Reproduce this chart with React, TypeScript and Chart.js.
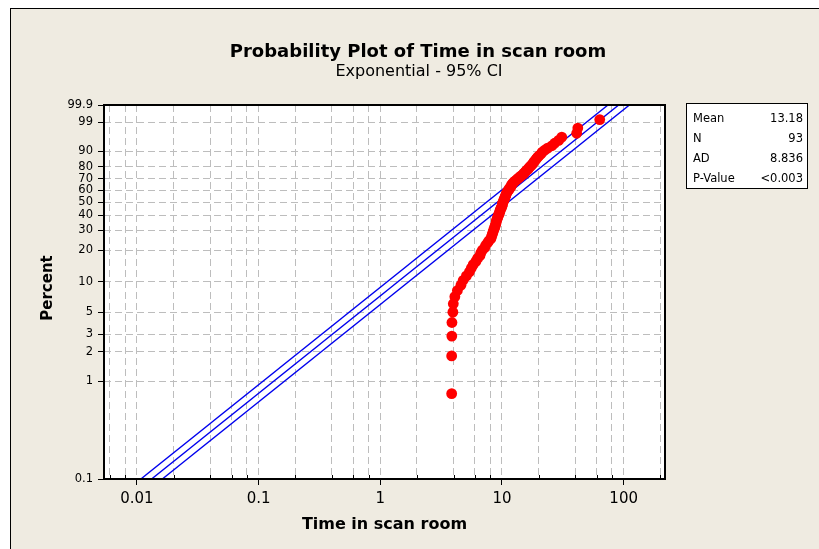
import React, { useEffect, useRef } from "react";
import { Chart, registerables } from "chart.js";

Chart.register(...registerables);

const chartTitle = "Probability Plot of Time in scan room";
const chartSubtitle = "Exponential - 95% CI";
const xAxisTitle = "Time in scan room";
const yAxisTitle = "Percent";

const timeValues = [
  3.86, 3.86, 3.87, 3.88, 3.95, 3.98, 4.1, 4.3, 4.6, 4.8,
  5.1, 5.4, 5.6, 5.8, 6.1, 6.3, 6.6, 6.7, 6.9, 7.2,
  7.35, 7.6, 7.8, 8.1, 8.2, 8.3, 8.4, 8.5, 8.6, 8.7,
  8.8, 8.9, 8.95, 9.0, 9.1, 9.2, 9.3, 9.4, 9.5, 9.6,
  9.65, 9.75, 9.9, 10.0, 10.05, 10.1, 10.2, 10.3, 10.4, 10.5,
  10.6, 10.7, 10.8, 10.9, 11.0, 11.2, 11.4, 11.5, 11.8, 11.9,
  12.0, 12.2, 12.5, 12.8, 13.2, 13.5, 14.0, 14.3, 14.8, 15.1,
  15.5, 15.8, 16.3, 16.6, 17.0, 17.5, 17.9, 18.2, 18.6, 19.1,
  19.5, 20.1, 20.9, 21.4, 22.4, 23.7, 25.7, 27.1, 29.2, 31.0,
  41.1, 42.0, 63.6,
];

// Fitted exponential mean and 95% CI bounds for the mean
const fitMean = 13.18;
const ciLowerMean = 10.76;
const ciUpperMean = 16.15;

const percentTicks = [0.1, 1, 2, 3, 5, 10, 20, 30, 40, 50, 60, 70, 80, 90, 99, 99.9];
const percentTickLabels = ["0.1", "1", "2", "3", "5", "10", "20", "30", "40", "50", "60", "70", "80", "90", "99", "99.9"];

const timeGridValues = [0.006, 0.008, 0.01, 0.02, 0.04, 0.06, 0.08, 0.1, 0.2, 0.4, 0.6, 0.8, 1, 2, 4, 6, 8, 10, 20, 40, 60, 80, 100, 200];
const timeTickLabels = ["", "", "0.01", "", "", "", "", "0.1", "", "", "", "", "1", "", "", "", "", "10", "", "", "", "", "100", ""];

const xMin = 0.00536;
const xMax = 218.7;

const statLabels = ["Mean", "N", "AD", "P-Value"];
const statValues = ["13.18", "93", "8.836", "<0.003"];

const FONT = '"DejaVu Sans", "Noto Sans", sans-serif';

// exponential probability transform
const tf = (pct: number) => Math.log10(-Math.log(1 - pct / 100));

const n = timeValues.length;
const points = timeValues.map((t, i) => ({ x: t, y: tf((100 * (i + 1 - 0.3)) / (n + 0.4)) }));
const lineFor = (theta: number) => [
  { x: theta * -Math.log(1 - 0.001), y: tf(0.1) },
  { x: theta * -Math.log(1 - 0.999), y: tf(99.9) },
];

const decorPlugin = {
  id: "decor",
  beforeDraw(chart: any) {
    const { ctx, chartArea: a } = chart;
    ctx.save();
    ctx.fillStyle = "#ffffff";
    ctx.fillRect(a.left, a.top, a.right - a.left, a.bottom - a.top);
    ctx.restore();
  },
  afterDraw(chart: any) {
    const { ctx, chartArea: a, scales } = chart;
    ctx.save();
    // minor inner ticks on the x axis
    ctx.strokeStyle = "#000";
    ctx.lineWidth = 1;
    ctx.beginPath();
    timeGridValues.forEach((v, i) => {
      if (timeTickLabels[i]) return;
      const px = Math.round(scales.x.getPixelForValue(v)) + 0.5;
      ctx.moveTo(px, a.bottom);
      ctx.lineTo(px, a.bottom - 4);
    });
    ctx.stroke();
    // frame
    ctx.lineWidth = 2;
    ctx.strokeRect(a.left, a.top, a.right - a.left, a.bottom - a.top);

    // titles
    ctx.fillStyle = "#000";
    ctx.textAlign = "center";
    ctx.textBaseline = "alphabetic";
    ctx.font = `bold 18px ${FONT}`;
    ctx.fillText(chartTitle, 418, 57);
    ctx.font = `16px ${FONT}`;
    ctx.fillText(chartSubtitle, 419, 76);
    ctx.font = `bold 16px ${FONT}`;
    ctx.fillText(xAxisTitle, (a.left + a.right) / 2, 529);
    ctx.save();
    ctx.translate(52, 288);
    ctx.rotate(-Math.PI / 2);
    ctx.font = `bold 15px ${FONT}`;
    ctx.fillText(yAxisTitle, 0, 0);
    ctx.restore();

    // stats box
    ctx.fillStyle = "#ffffff";
    ctx.fillRect(686, 104, 121, 85);
    ctx.strokeStyle = "#000";
    ctx.lineWidth = 1;
    ctx.strokeRect(686.5, 103.5, 121, 85);
    ctx.fillStyle = "#000";
    ctx.font = `11.5px ${FONT}`;
    statLabels.forEach((lab, i) => {
      const y = 122 + i * 20;
      ctx.textAlign = "left";
      ctx.fillText(lab, 693, y);
      ctx.textAlign = "right";
      ctx.fillText(statValues[i], 803, y);
    });
    ctx.restore();
  },
};

export default function App() {
  const ref = useRef<HTMLCanvasElement>(null);
  useEffect(() => {
    if (!ref.current) return;
    const chart = new Chart(ref.current, {
      type: "scatter",
      data: {
        datasets: [
          {
            data: points,
            pointRadius: 5.4,
            pointBackgroundColor: "#ff0000",
            pointBorderColor: "#ff0000",
            pointBorderWidth: 0,
            showLine: false,
          },
          {
            data: lineFor(fitMean),
            showLine: true,
            borderColor: "#0000ee",
            borderWidth: 1.4,
            pointRadius: 0,
          },
          {
            data: lineFor(ciLowerMean),
            showLine: true,
            borderColor: "#0000ee",
            borderWidth: 1.4,
            pointRadius: 0,
          },
          {
            data: lineFor(ciUpperMean),
            showLine: true,
            borderColor: "#0000ee",
            borderWidth: 1.4,
            pointRadius: 0,
          },
        ],
      },
      options: {
        responsive: false,
        devicePixelRatio: 1,
        animation: false,
        events: [],
        layout: { padding: { left: 0, right: 154, top: 105, bottom: 0 } },
        plugins: { legend: { display: false }, tooltip: { enabled: false }, title: { display: false } },
        scales: {
          x: {
            type: "logarithmic",
            min: xMin,
            max: xMax,
            afterBuildTicks: (scale: any) => {
              scale.ticks = timeGridValues.map((v) => ({ value: v }));
            },
            afterFit: (scale: any) => {
              scale.height = 70;
            },
            border: { display: false, dash: [7, 4] },
            grid: {
              color: "#bdbdbd",
              lineWidth: 1,
              tickLength: 6,
              tickWidth: 1,
              tickBorderDash: [],
              tickColor: (ctx: any) => (timeTickLabels[ctx.index] ? "#000" : "rgba(0,0,0,0)"),
            },
            ticks: {
              autoSkip: false,
              maxRotation: 0,
              minRotation: 0,
              padding: 5,
              color: "#000",
              font: { family: FONT, size: 15 },
              callback: (_v: any, i: number) => timeTickLabels[i],
            },
          },
          y: {
            type: "linear",
            min: tf(0.1),
            max: tf(99.9),
            afterBuildTicks: (scale: any) => {
              scale.ticks = percentTicks.map((p) => ({ value: tf(p) }));
            },
            afterFit: (scale: any) => {
              scale.width = 104;
            },
            border: { display: false, dash: [7, 4] },
            grid: {
              color: "#bdbdbd",
              lineWidth: 1,
              tickLength: 6,
              tickWidth: 1,
              tickBorderDash: [],
              tickColor: "#000",
            },
            ticks: {
              padding: 5,
              color: "#000",
              font: { family: FONT, size: 11.5 },
              callback: (_v: any, i: number) => percentTickLabels[i],
            },
          },
        },
      },
      plugins: [decorPlugin],
    } as any);
    return () => chart.destroy();
  }, []);

  return (
    <>
      <div
        style={{
          position: "fixed",
          left: 10,
          top: 8,
          width: 809,
          height: 541,
          boxSizing: "border-box",
          borderLeft: "1px solid #000",
          borderTop: "1px solid #000",
          background: "#efebe1",
        }}
      />
      <canvas
        ref={ref}
        width={819}
        height={549}
        style={{ position: "fixed", left: 0, top: 0, width: 819, height: 549 }}
      />
    </>
  );
}
